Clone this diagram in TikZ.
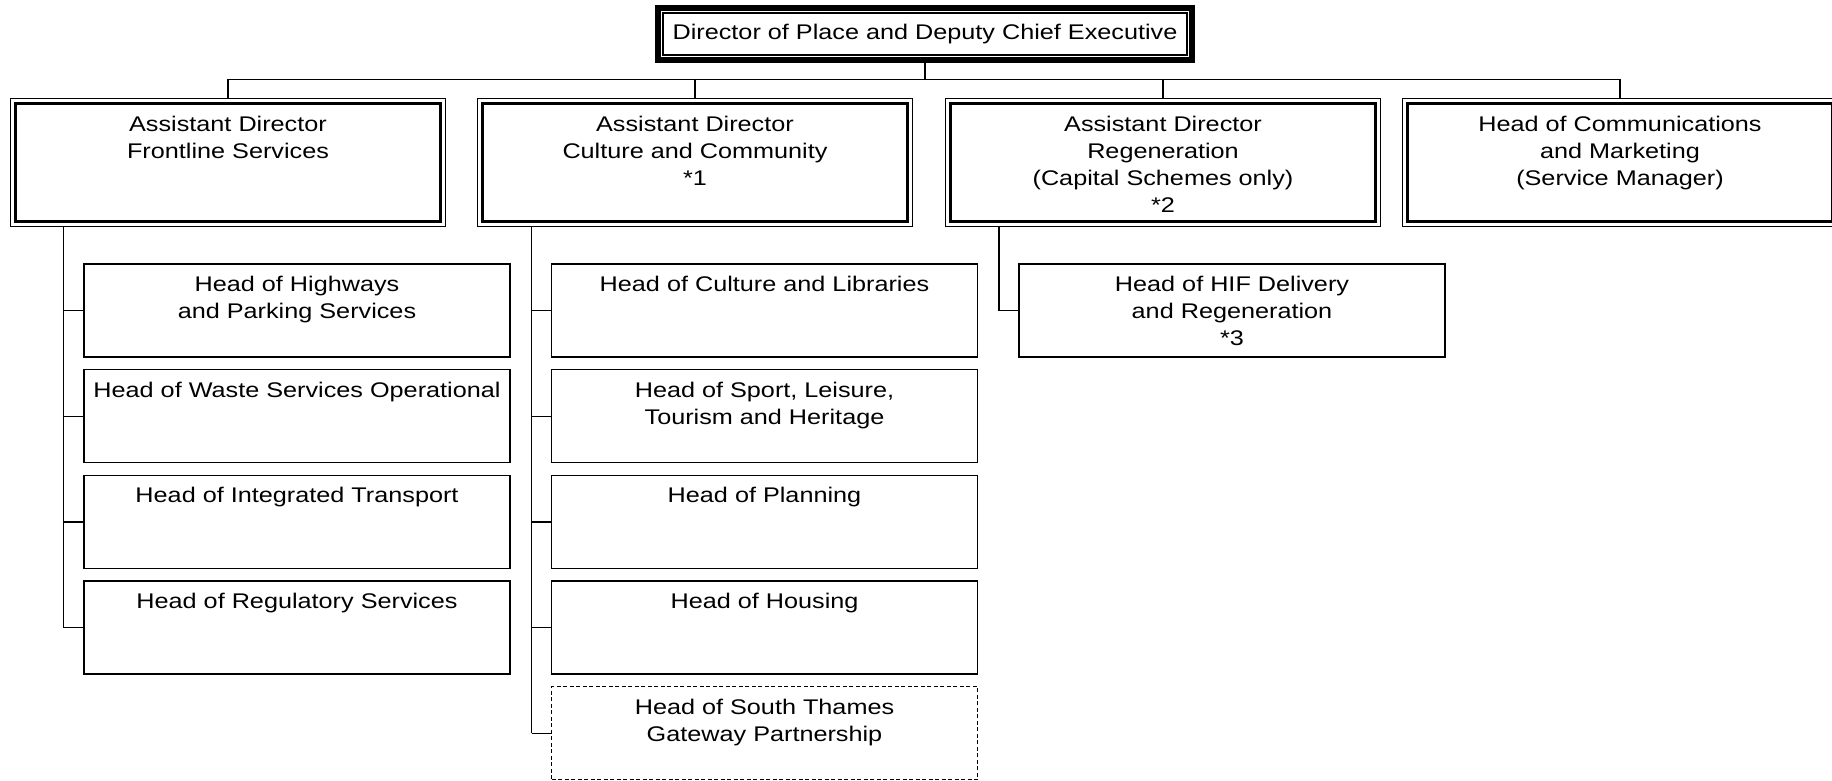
\documentclass[tikz,border=0pt]{standalone}
\usepackage{fontspec}
\setmainfont[FakeStretch=1.19]{Liberation Sans}
\newcommand{\mkADtext}[1]{\parbox[b][128pt][t]{435pt}{\centering\rule{0pt}{33pt}#1\par}}
\newcommand{\mkHDtext}[1]{\parbox[b][93pt][t]{426pt}{\centering\rule{0pt}{27.5pt}#1\par}}
\begin{document}
\begin{tikzpicture}[x=1pt,y=-1pt,
  every node/.style={inner sep=0pt, outer sep=0pt, font=\fontsize{21.2}{27}\selectfont},
  conn/.style={line width=1.4pt},
  topbox/.style={draw, line width=6pt, minimum width=534pt, minimum height=52pt},
  adbox/.style={draw, line width=1.4pt},
  headbox/.style={draw, line width=1.4pt},
  dashbox/.style={draw, line width=1.2pt, dash pattern=on 4pt off 2.5pt},
  innerthick/.style={line width=3.4pt},
  innerthin/.style={line width=1.1pt}
]
\useasboundingbox (0,0) rectangle (1832,781);
\clip (0,0) rectangle (1832,781);

% top box
\node[topbox] (dir) at (925,34) {Director of Place and Deputy Chief Executive};
\draw[innerthin] ([xshift=5pt,yshift=-5pt]dir.north west) rectangle ([xshift=-5pt,yshift=5pt]dir.south east);

% level 2
\node[adbox] (b1) at (228,162.5) {\mkADtext{Assistant Director\\Frontline Services}};
\node[adbox] (b2) at (695,162.5) {\mkADtext{Assistant Director\\Culture and Community\\{*}1}};
\node[adbox] (b3) at (1163,162.5) {\mkADtext{Assistant Director\\Regeneration\\(Capital Schemes only)\\{*}2}};
\node[adbox] (b4) at (1620,162.5) {\mkADtext{Head of Communications\\and Marketing\\(Service Manager)}};
\foreach \n in {b1,b2,b3,b4}
  \draw[innerthick] ([xshift=5pt,yshift=-5pt]\n.north west) rectangle ([xshift=-5pt,yshift=5pt]\n.south east);

% level 3 left
\node[headbox] (h11) at (297,310.5) {\mkHDtext{Head of Highways\\and Parking Services}};
\node[headbox] (h12) at (297,416.2) {\mkHDtext{Head of Waste Services Operational}};
\node[headbox] (h13) at (297,521.9) {\mkHDtext{Head of Integrated Transport}};
\node[headbox] (h14) at (297,627.6) {\mkHDtext{Head of Regulatory Services}};
% level 3 middle
\node[headbox] (h21) at (764.5,310.5) {\mkHDtext{Head of Culture and Libraries}};
\node[headbox] (h22) at (764.5,416.2) {\mkHDtext{Head of Sport, Leisure,\\Tourism and Heritage}};
\node[headbox] (h23) at (764.5,521.9) {\mkHDtext{Head of Planning}};
\node[headbox] (h24) at (764.5,627.6) {\mkHDtext{Head of Housing}};
\node[dashbox] (h25) at (764.5,733.3) {\mkHDtext{Head of South Thames\\Gateway Partnership}};
% level 3 right
\node[headbox] (h31) at (1232,310.5) {\mkHDtext{Head of HIF Delivery\\and Regeneration\\{*}3}};

% connectors top
\coordinate (bar) at (0,79.5);
\draw[conn] (dir.south) -- (dir.south |- bar);
\draw[conn] (b1.north) -- (b1.north |- bar) -- (b4.north |- bar) -- (b4.north);
\draw[conn] (b2.north) -- (b2.north |- bar);
\draw[conn] (b3.north) -- (b3.north |- bar);

% connectors to heads
\coordinate (v1) at (63.5,0);
\coordinate (v2) at (531.5,0);
\coordinate (v3) at (999,0);
\draw[conn] (v1 |- b1.south) -- (v1 |- h14.west);
\foreach \h in {h11,h12,h13,h14}
  \draw[conn] (v1 |- \h.west) -- (\h.west);
\draw[conn] (v2 |- b2.south) -- (v2 |- h25.west);
\foreach \h in {h21,h22,h23,h24,h25}
  \draw[conn] (v2 |- \h.west) -- (\h.west);
\draw[conn] (v3 |- b3.south) |- (h31.west);
\end{tikzpicture}
\end{document}
